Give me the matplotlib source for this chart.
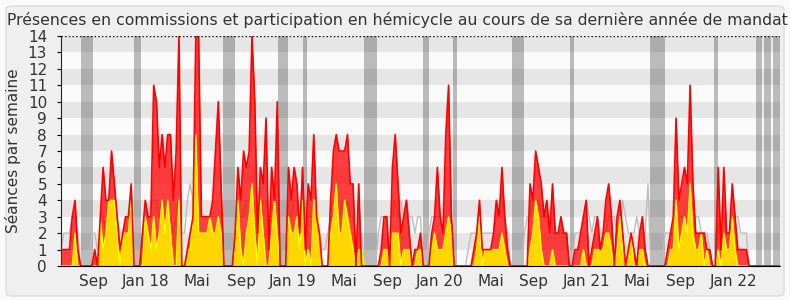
import numpy as np
import matplotlib
matplotlib.use('Agg')
import matplotlib.pyplot as plt
from matplotlib.patches import FancyBboxPatch

# séances par semaine (semaine 0 = mi-juin 2017)
hemicycle = [1, 1, 1, 1, 3, 4, 1, 0, 0, 0, 0, 0, 1, 0, 3, 6, 4, 4, 7, 5,
             3, 1, 2, 3, 3, 5, 0, 0, 0, 2, 4, 3, 3, 11, 10, 6, 8, 6, 8, 8,
             4, 7, 14, 0, 0, 1, 2, 3, 14, 14, 3, 3, 3, 3, 4, 7, 10, 5, 0, 0,
             0, 0, 2, 6, 4, 7, 6, 7, 14, 10, 2, 6, 5, 9, 1, 6, 4, 10, 0, 0,
             0, 6, 4, 6, 5, 2, 6, 1, 5, 4, 8, 3, 2, 0, 0, 0, 4, 7, 8, 7,
             7, 7, 8, 5, 5, 0, 5, 0, 0, 0, 0, 0, 0, 0, 1, 3, 3, 0, 6, 8,
             5, 2, 3, 4, 2, 0, 1, 1, 2, 0, 0, 0, 2, 3, 6, 3, 2, 8, 11, 3,
             0, 0, 0, 0, 0, 0, 0, 1, 2, 4, 1, 1, 1, 1, 2, 4, 3, 6, 3, 1,
             0, 0, 0, 0, 0, 0, 0, 5, 4, 7, 6, 5, 3, 4, 2, 5, 2, 2, 3, 2,
             2, 0, 0, 1, 1, 2, 3, 4, 0, 1, 2, 3, 1, 2, 4, 5, 3, 0, 3, 4,
             2, 0, 1, 2, 1, 0, 2, 3, 1, 0, 0, 0, 0, 0, 0, 0, 1, 2, 3, 9,
             4, 5, 6, 5, 11, 5, 2, 2, 2, 2, 1, 1, 0, 0, 6, 1, 6, 2, 2, 5,
             3, 1, 1, 1, 1, 0, 0, 0, 0, 0, 0, 0, 0, 0, 0, 0, 0]

commissions = [0, 0, 0, 0, 0, 2, 0, 0, 0, 0, 0, 0, 0, 0, 3, 1, 2, 4, 4, 4,
               2, 0, 2, 2, 2, 4, 0, 0, 0, 0, 3, 2, 1, 3, 1, 2, 4, 2, 4, 2,
               0, 0, 4, 0, 0, 1, 1, 3, 8, 2, 2, 2, 2, 3, 2, 2, 3, 2, 0, 0,
               0, 0, 1, 4, 1, 0, 2, 3, 5, 2, 0, 4, 2, 0, 0, 2, 4, 2, 0, 0,
               0, 3, 2, 2, 3, 1, 4, 0, 1, 0, 4, 4, 2, 0, 0, 0, 2, 3, 5, 2,
               2, 4, 3, 2, 1, 0, 1, 1, 0, 0, 0, 0, 0, 0, 0, 1, 1, 0, 2, 2,
               2, 0, 1, 1, 1, 0, 0, 1, 1, 0, 0, 0, 1, 2, 1, 1, 1, 2, 3, 2,
               0, 0, 0, 0, 0, 0, 0, 0, 1, 3, 0, 1, 1, 1, 1, 1, 1, 2, 1, 0,
               0, 0, 0, 0, 0, 0, 0, 1, 2, 4, 3, 1, 0, 0, 0, 1, 0, 0, 0, 0,
               0, 0, 0, 0, 0, 0, 1, 0, 0, 0, 1, 1, 1, 1, 2, 2, 1, 0, 1, 3,
               1, 0, 1, 2, 0, 0, 1, 1, 0, 0, 0, 0, 0, 0, 0, 0, 0, 1, 1, 4,
               1, 2, 3, 2, 5, 2, 1, 1, 2, 0, 1, 0, 0, 0, 1, 0, 2, 1, 1, 3,
               1, 0, 0, 0, 0, 0, 0, 0, 0, 0, 0, 0, 0, 0, 0, 0, 0]

mediane = [1, 2, 2, 2, 3, 3, 2, 0, 0, 0, 0, 2, 2, 1, 2, 3, 2, 3, 3, 3,
           3, 2, 2, 3, 3, 3, 0, 0, 0, 2, 2, 3, 4, 4, 4, 3, 4, 3, 3, 3,
           2, 3, 4, 2, 2, 4, 5, 4, 3, 3, 3, 3, 3, 3, 3, 3, 3, 2, 0, 0,
           0, 0, 3, 3, 3, 3, 4, 4, 4, 3, 3, 3, 4, 4, 3, 3, 3, 3, 0, 0,
           0, 3, 3, 4, 4, 3, 3, 3, 3, 3, 3, 3, 2, 1, 1, 2, 3, 3, 3, 3,
           4, 3, 4, 3, 3, 2, 2, 2, 0, 0, 0, 0, 0, 2, 3, 3, 3, 3, 3, 4,
           3, 4, 3, 4, 3, 3, 2, 3, 3, 0, 0, 2, 3, 3, 3, 3, 3, 3, 3, 3,
           0, 0, 0, 0, 0, 1, 2, 2, 2, 2, 2, 2, 2, 2, 2, 3, 4, 4, 3, 2,
           0, 0, 0, 0, 0, 2, 3, 3, 4, 4, 4, 3, 3, 3, 3, 2, 2, 2, 2, 2,
           2, 0, 0, 2, 2, 2, 3, 4, 3, 2, 3, 3, 2, 2, 2, 3, 3, 3, 2, 2,
           4, 3, 2, 2, 2, 3, 2, 2, 2, 5, 0, 0, 0, 0, 0, 2, 2, 2, 2, 3,
           3, 3, 3, 3, 3, 3, 3, 3, 2, 2, 2, 1, 0, 0, 2, 3, 3, 2, 2, 3,
           3, 3, 2, 2, 2, 0, 0, 0, 0, 0, 0, 0, 0, 0, 0, 0, 0]

# vacances parlementaires (en semaines)
vacances = [(7.1, 11.4), (26, 28.5), (57.7, 61.9), (77.2, 80.8), (86.1, 87.5),
            (107.8, 112.5), (128.8, 131), (139.5, 140.9), (160.5, 164.8),
            (181.1, 182.6), (209.6, 214.9), (232.4, 233.8), (247.3, 249.5),
            (250.2, 252.7), (253.4, 255.9)]

mois_pos = [11.4, 30.2, 48.4, 64.1, 82.6, 100.7, 116.4, 134.9, 152.9,
            168.3, 187.2, 205.2, 220.6, 239.5]
mois_labels = ['Sep', 'Jan 18', 'Mai', 'Sep', 'Jan 19', 'Mai', 'Sep',
               'Jan 20', 'Mai', 'Sep', 'Jan 21', 'Mai', 'Sep', 'Jan 22']

semaines = np.arange(len(hemicycle))

fig = plt.figure(figsize=(7.9, 3.0), dpi=100, facecolor='#fafafa')
fig.patches.append(FancyBboxPatch((6 / 790, 4 / 300), 778 / 790, 290 / 300,
                                  boxstyle='round,pad=0,rounding_size=0.01',
                                  transform=fig.transFigure, facecolor='#efefef',
                                  edgecolor='#dcdcdc', lw=1, zorder=-10))
ax = fig.add_axes([61 / 790, 34 / 300, 719 / 790, 230 / 300])
ax.set_facecolor('#fafafa')

# bandes horizontales
for k in range(1, 14, 2):
    ax.axhspan(k, k + 1, color='#e6e6e6', lw=0, zorder=0)
for a, b in vacances:
    ax.axvspan(a, b, color='black', alpha=0.25, lw=0, zorder=1)

ax.plot(semaines, mediane, color='#bdbdbd', lw=1, zorder=2)
ax.fill_between(semaines, hemicycle, color='#ff0000', alpha=0.75, lw=0, zorder=3)
ax.fill_between(semaines, commissions, color='#ffd700', lw=0, zorder=4)
ax.plot(semaines, commissions, color='#ffff00', lw=1, zorder=5)
ax.plot(semaines, hemicycle, color='#ff0000', lw=1.2, zorder=6)

ax.axhline(14, color='black', ls=':', lw=1, zorder=7)

ax.set_xlim(0, 256)
ax.set_ylim(0, 14)
ax.set_yticks(range(15))
ax.set_xticks(mois_pos)
ax.set_xticklabels(mois_labels)
ax.tick_params(axis='x', length=0, pad=6, labelsize=11, labelcolor='#333333')
ax.tick_params(axis='y', length=3, pad=7, labelsize=11, labelcolor='#333333')

ax.spines['top'].set_visible(False)
ax.spines['right'].set_visible(False)
ax.spines['left'].set_color('#222222')
ax.spines['bottom'].set_color('black')
ax.spines['bottom'].set_zorder(8)

ax.set_ylabel('Séances par semaine', fontsize=11, color='#333333', labelpad=5)
fig.text(0.503, 0.933, 'Présences en commissions et participation en hémicycle au cours de sa dernière année de mandat',
         ha='center', va='center', fontsize=11.3, color='#333333')

fig.savefig('out.png', dpi=100, facecolor=fig.get_facecolor())
